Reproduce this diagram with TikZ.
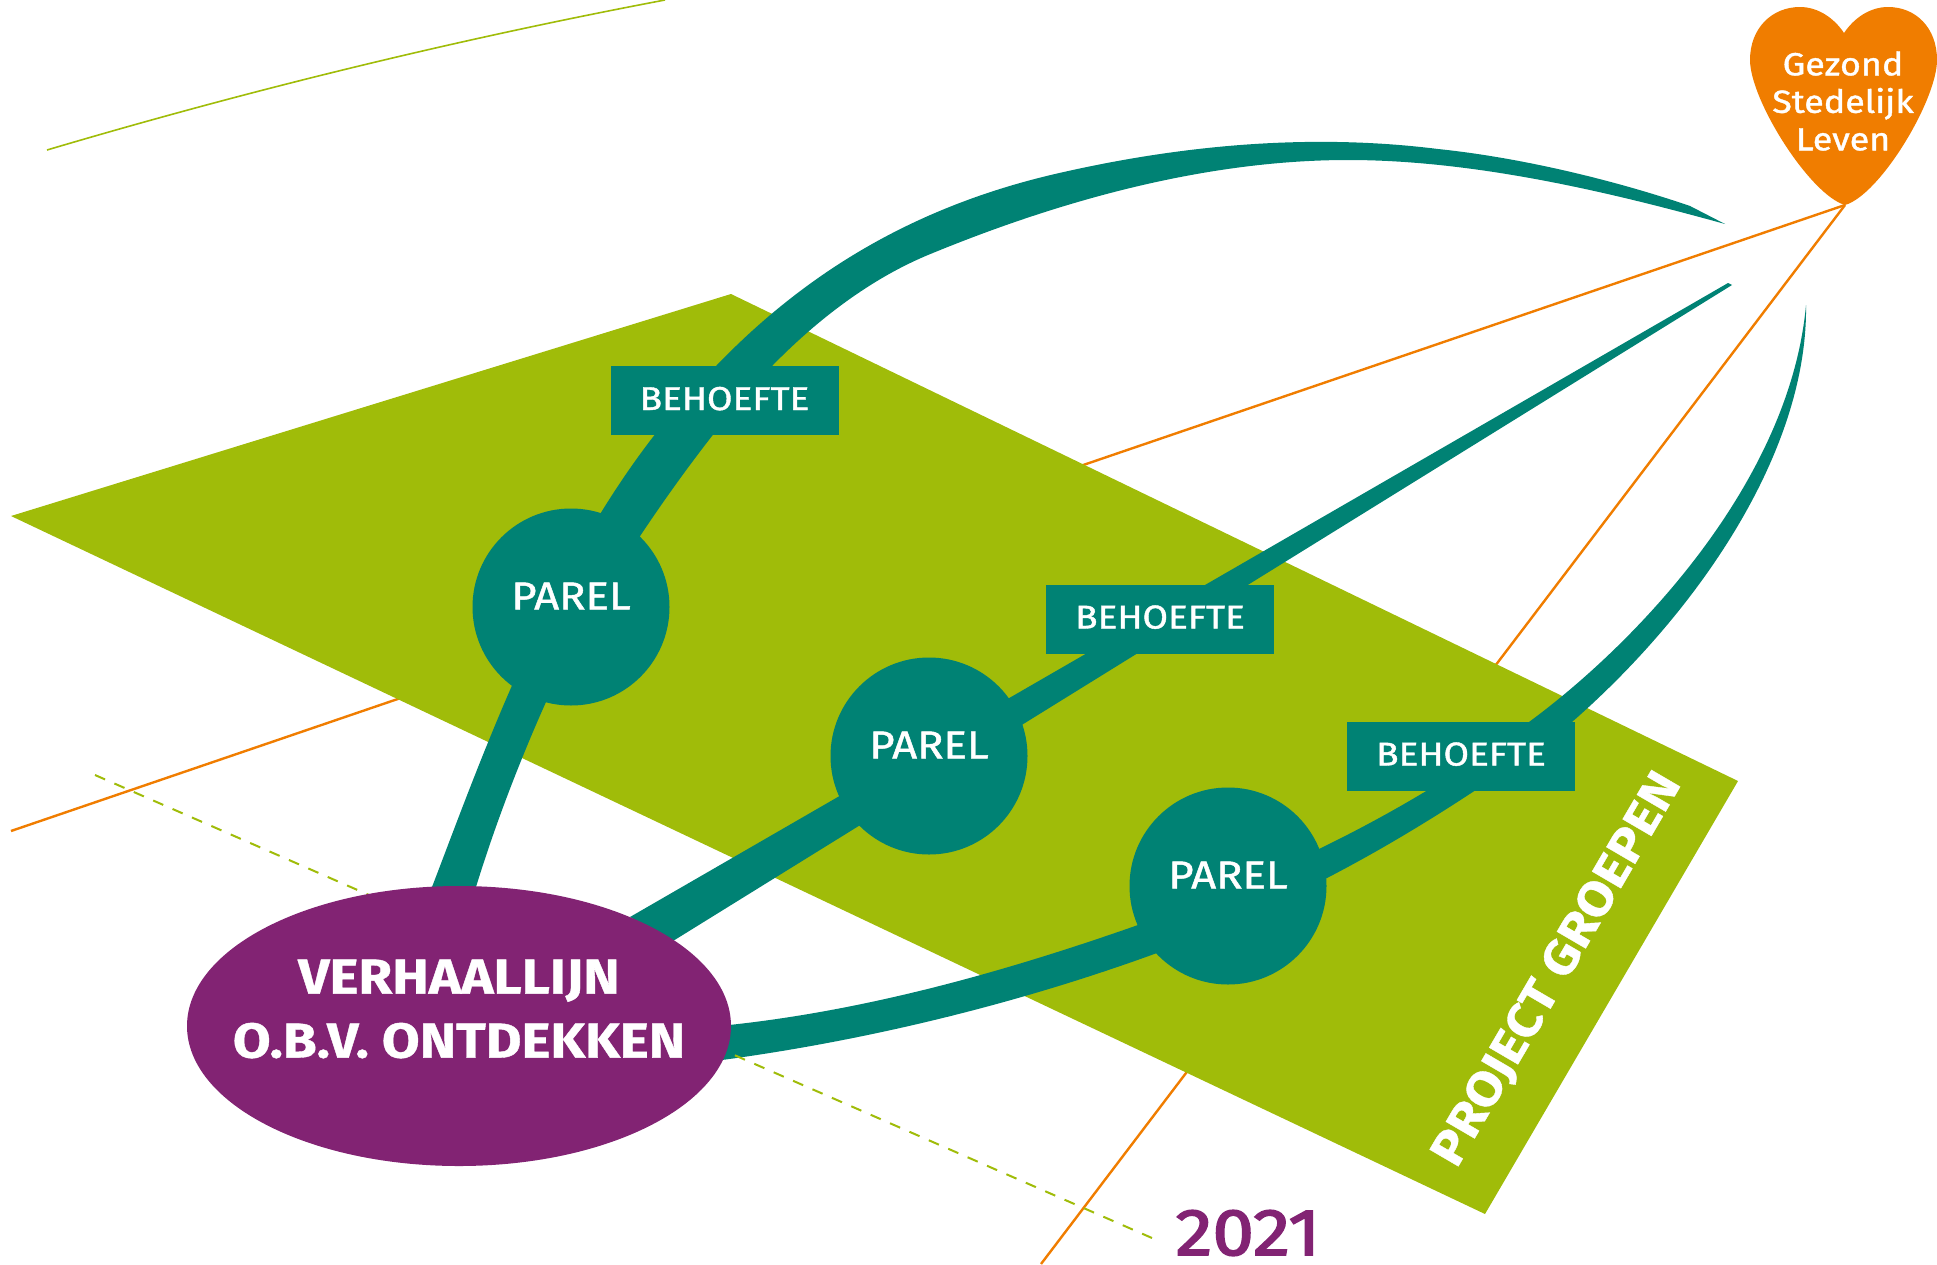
\documentclass[tikz,border=0pt]{standalone}
\usepackage{fontspec}
\setmainfont{Fira Sans}
\newfontfamily\unitfont[FakeStretch=1.12,FakeBold=1.2]{Fira Sans}
\newfontfamily\unitbase[FakeStretch=1.12,FakeBold=0.8]{Fira Sans}
\newfontfamily\unityear[FakeStretch=1.13,FakeBold=2.5]{Fira Sans}
\usetikzlibrary{shapes.geometric}
\definecolor{pearlteal}{HTML}{008274}
\definecolor{fieldgreen}{HTML}{A0BC09}
\definecolor{storypurple}{HTML}{822373}
\definecolor{heartorange}{HTML}{F07D00}
\begin{document}
\begin{tikzpicture}[x=1pt,y=-1pt]
    \useasboundingbox (0,0) rectangle (1937,1264);

    % set the styles of the nodes and thin lines
    \tikzset{
        parel/.style={circle,fill=pearlteal,text=white,inner sep=0pt,minimum size=197pt,
            text height=27pt,text depth=22pt,font=\unitfont\fontsize{39}{39}\selectfont},
        behoefte/.style={rectangle,fill=pearlteal,text=white,inner sep=0pt,minimum width=228pt,minimum height=69pt,
            text height=23pt,text depth=4pt,font=\unitfont\fontsize{33}{33}\selectfont},
        verhaal/.style={ellipse,fill=storypurple,inner sep=0pt,minimum width=544pt,minimum height=280pt},
        sightline/.style={heartorange,line width=2.4pt},
        timeline/.style={fieldgreen,line width=2pt}
    }

    % free ends of the thin lines
    \coordinate (hearttip) at (1845,205);
    \coordinate (orangeleft) at (11,831);
    \coordinate (orangebottom) at (1041,1264);
    \coordinate (dashstart) at (95,775);
    \coordinate (dashend) at (1152,1238);

    % thin lines
    \draw[sightline] (hearttip) -- (orangeleft);
    \draw[sightline] (hearttip) -- (orangebottom);
    \draw[timeline,line width=1.6pt] (47,150) .. controls (253,89) and (459,39) .. (665,0);

    % project field
    \fill[fieldgreen] (11,516) -- (731,294) -- (1738,781) -- (1485,1214) -- cycle;
    \node[white,rotate=59.7,font=\unitbase\bfseries\fontsize{48}{48}\selectfont] (groepen) at (1558,970) {PROJECT GROEPEN};

    % the three tapering lines
    \fill[pearlteal] (432,887) .. controls (487,744) and (568,509) .. (716,366)
        .. controls (795,284) and (900,210) .. (1055,174)
        .. controls (1180,145) and (1310,133) .. (1438,149)
        .. controls (1525,158) and (1620,182) .. (1690,206) -- (1725,224)
        .. controls (1620,195) and (1480,160) .. (1348,160)
        .. controls (1230,160) and (1090,188) .. (928,255)
        .. controls (868,280) and (815,322) .. (772,366)
        .. controls (700,440) and (590,600) .. (546,702)
        .. controls (520,760) and (495,825) .. (476,887) -- cycle;
    \fill[pearlteal] (630,917) -- (1728,283) -- (1732,285) -- (673,941) -- cycle;
    \fill[pearlteal] (729,1025) .. controls (870,1010) and (1010,970) .. (1138,925)
        .. controls (1200,902) and (1265,875) .. (1319,849)
        .. controls (1395,812) and (1465,770) .. (1529,722)
        .. controls (1640,640) and (1790,480) .. (1806,305)
        .. controls (1808,450) and (1700,610) .. (1572,722)
        .. controls (1495,780) and (1410,835) .. (1327,878)
        .. controls (1275,905) and (1215,932) .. (1157,953)
        .. controls (1020,1003) and (870,1040) .. (722,1060) -- cycle;
    \draw[timeline,dash pattern=on 11pt off 10.17pt] (dashstart) -- (dashend);

    % pearls and needs
    \foreach \name/\x/\y in {parelA/571/607,parelB/929/756,parelC/1228/886}
        \node[parel] (\name) at (\x,\y) {PAREL};
    \foreach \name/\x/\y in {behoefteA/724.5/400.5,behoefteB/1160/619,behoefteC/1461/756}
        \node[behoefte] (\name) at (\x,\y) {BEHOEFTE};

    % story line
    \node[verhaal] (verhaal) at (459,1026) {};
    \node[white,align=center,font=\unitbase\bfseries\fontsize{49}{64}\selectfont] (verhaaltext) at (459,1009) {VERHAALLIJN\\O.B.V. ONTDEKKEN};

    % heart
    \fill[heartorange] (hearttip) .. controls (1810,195) and (1750,100) .. (1750,60)
        .. controls (1750,28) and (1772,7) .. (1800,7) .. controls (1818,7) and (1834,18) .. (1844,33)
        .. controls (1854,18) and (1870,7) .. (1888,7) .. controls (1916,7) and (1937,28) .. (1937,60)
        .. controls (1937,100) and (1880,195) .. (hearttip) -- cycle;
    \node[white,align=center,font=\unitfont\fontsize{32}{37.5}\selectfont] (hart) at (1843,101) {Gezond\\Stedelijk\\Leven};

    % year
    \node[storypurple,font=\unityear\fontsize{66}{66}\selectfont] (jaar) at (1248,1233) {2021};
\end{tikzpicture}
\end{document}
